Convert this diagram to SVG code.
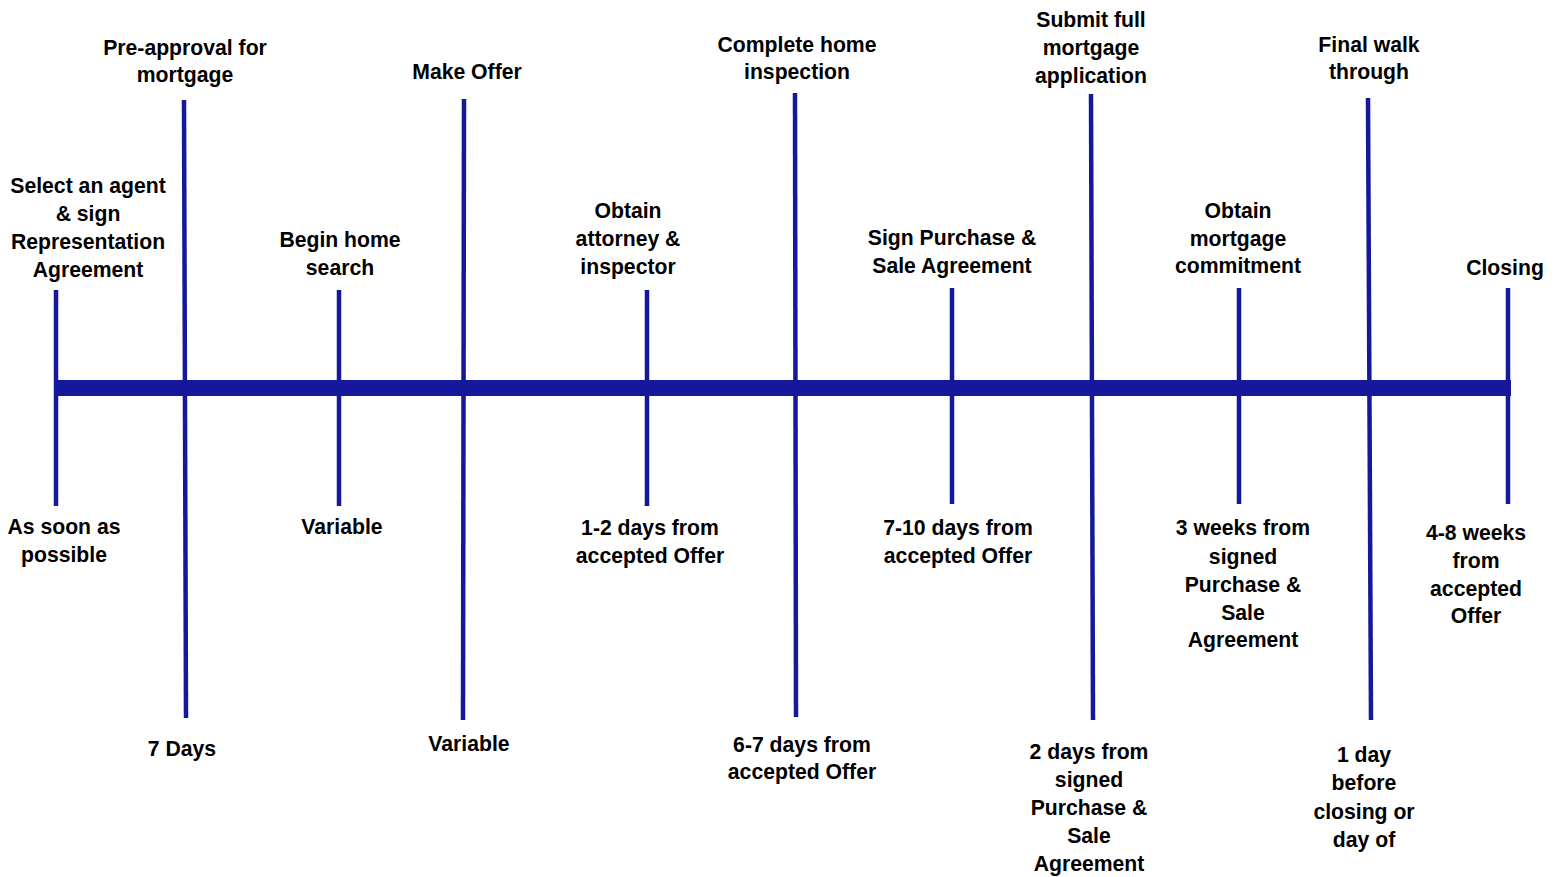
<svg xmlns="http://www.w3.org/2000/svg" width="1558" height="877" viewBox="0 0 1558 877">
<style>
.t{font-family:"Liberation Sans",Arial,sans-serif;font-weight:bold;font-size:21.2px;fill:#000;text-anchor:middle}
.v{stroke:#15189a;stroke-width:4.5;fill:none}
.bar{fill:#15189a}
</style>
<rect width="1558" height="877" fill="#fff"/>
<g id="connectors">
<rect class="bar" x="54" y="380" width="1457" height="16"/>
<line class="v" x1="56" y1="290" x2="56" y2="506"/>
<line class="v" x1="184" y1="100" x2="186" y2="718"/>
<line class="v" x1="339" y1="290" x2="339" y2="506"/>
<line class="v" x1="464" y1="99" x2="463" y2="720"/>
<line class="v" x1="647" y1="290" x2="647" y2="506"/>
<line class="v" x1="795" y1="93" x2="796" y2="717"/>
<line class="v" x1="952" y1="288" x2="952" y2="504"/>
<line class="v" x1="1091" y1="94" x2="1093" y2="720"/>
<line class="v" x1="1239" y1="288" x2="1239" y2="504"/>
<line class="v" x1="1368" y1="98" x2="1371" y2="720"/>
<line class="v" x1="1508" y1="288" x2="1508" y2="504"/>
</g>
<g id="n1"><text class="t" x="88" y="193">Select an agent</text><text class="t" x="88" y="221">&amp; sign</text><text class="t" x="88" y="249">Representation</text><text class="t" x="88" y="277">Agreement</text>
<text class="t" x="64" y="534">As soon as</text><text class="t" x="64" y="562">possible</text></g>
<g id="n2"><text class="t" x="185" y="55">Pre-approval for</text><text class="t" x="185" y="82">mortgage</text>
<text class="t" x="182" y="756">7 Days</text></g>
<g id="n3"><text class="t" x="340" y="247">Begin home</text><text class="t" x="340" y="275">search</text>
<text class="t" x="342" y="534">Variable</text></g>
<g id="n4"><text class="t" x="467" y="79">Make Offer</text>
<text class="t" x="469" y="751">Variable</text></g>
<g id="n5"><text class="t" x="628" y="218">Obtain</text><text class="t" x="628" y="246">attorney &amp;</text><text class="t" x="628" y="274">inspector</text>
<text class="t" x="650" y="535">1-2 days from</text><text class="t" x="650" y="563">accepted Offer</text></g>
<g id="n6"><text class="t" x="797" y="52">Complete home</text><text class="t" x="797" y="79">inspection</text>
<text class="t" x="802" y="752">6-7 days from</text><text class="t" x="802" y="779">accepted Offer</text></g>
<g id="n7"><text class="t" x="952" y="245">Sign Purchase &amp;</text><text class="t" x="952" y="273">Sale Agreement</text>
<text class="t" x="958" y="535">7-10 days from</text><text class="t" x="958" y="563">accepted Offer</text></g>
<g id="n8"><text class="t" x="1091" y="27">Submit full</text><text class="t" x="1091" y="55">mortgage</text><text class="t" x="1091" y="83">application</text>
<text class="t" x="1089" y="759">2 days from</text><text class="t" x="1089" y="787">signed</text><text class="t" x="1089" y="815">Purchase &amp;</text><text class="t" x="1089" y="843">Sale</text><text class="t" x="1089" y="871">Agreement</text></g>
<g id="n9"><text class="t" x="1238" y="218">Obtain</text><text class="t" x="1238" y="246">mortgage</text><text class="t" x="1238" y="273">commitment</text>
<text class="t" x="1243" y="535">3 weeks from</text><text class="t" x="1243" y="564">signed</text><text class="t" x="1243" y="592">Purchase &amp;</text><text class="t" x="1243" y="620">Sale</text><text class="t" x="1243" y="647">Agreement</text></g>
<g id="n10"><text class="t" x="1369" y="52">Final walk</text><text class="t" x="1369" y="79">through</text>
<text class="t" x="1364" y="762">1 day</text><text class="t" x="1364" y="790">before</text><text class="t" x="1364" y="819">closing or</text><text class="t" x="1364" y="847">day of</text></g>
<g id="n11"><text class="t" x="1505" y="275">Closing</text>
<text class="t" x="1476" y="540">4-8 weeks</text><text class="t" x="1476" y="568">from</text><text class="t" x="1476" y="596">accepted</text><text class="t" x="1476" y="623">Offer</text></g>
</svg>
